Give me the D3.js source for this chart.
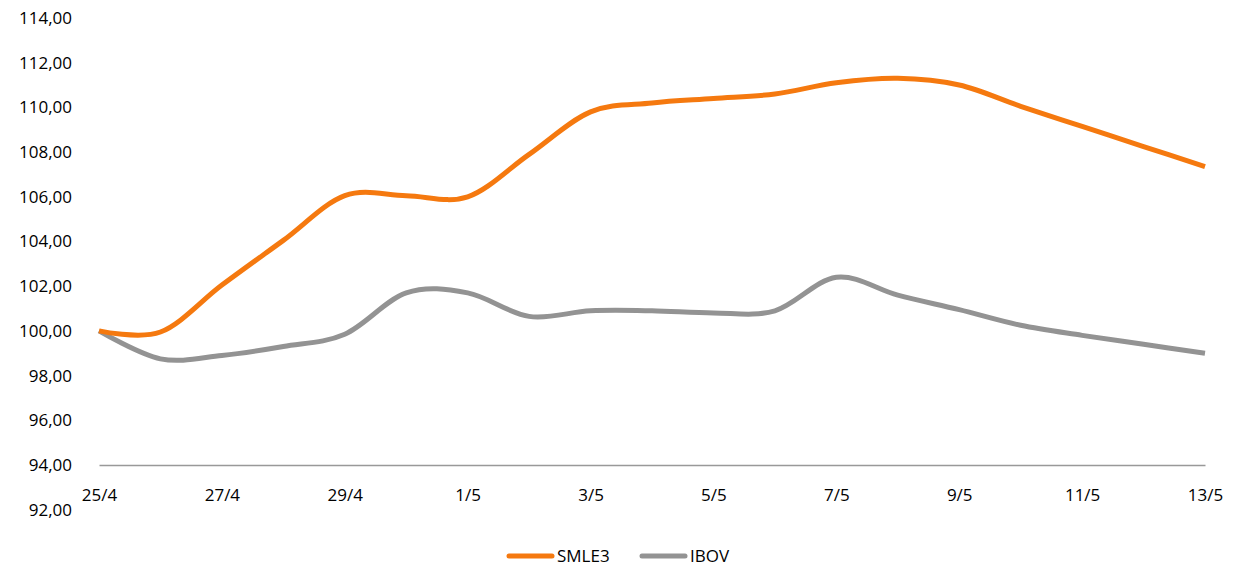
<!DOCTYPE html>
<html>
<head>
<meta charset="utf-8">
<script src="https://cdn.jsdelivr.net/npm/d3@7"></script>
<style>
  body { margin: 0; background: #fff; }
  svg { display: block; font-family: 'Open Sans', sans-serif; }
</style>
</head>
<body>
<div id="chart"></div>
<script>
// Data
const dates = ['25/4', '26/4', '27/4', '28/4', '29/4', '30/4', '1/5', '2/5', '3/5', '4/5',
  '5/5', '6/5', '7/5', '8/5', '9/5', '10/5', '11/5', '12/5', '13/5'];
const smle3 = [100.0, 99.95, 102.05, 104.05, 106.05, 106.05, 106.0, 107.9, 109.8, 110.2,
  110.4, 110.6, 111.1, 111.3, 111.0, 110.05, 109.15, 108.25, 107.35];
const ibov = [100.0, 98.75, 98.9, 99.3, 99.85, 101.7, 101.7, 100.65, 100.9, 100.9,
  100.8, 100.9, 102.4, 101.6, 100.95, 100.25, 99.8, 99.4, 99.0];
const yTicks = [92, 94, 96, 98, 100, 102, 104, 106, 108, 110, 112, 114];
const xTicks = ['25/4', '27/4', '29/4', '1/5', '3/5', '5/5', '7/5', '9/5', '11/5', '13/5'];

const series = [
  { name: 'SMLE3', values: smle3, color: '#f5790f' },
  { name: 'IBOV', values: ibov, color: '#939393' }
];

const width = 1233, height = 570;

const svg = d3.select('#chart')
  .append('svg')
  .attr('width', width)
  .attr('height', height);

const x = d3.scalePoint().domain(dates).range([99, 1205]);
const y = d3.scaleLinear().domain([94, 114]).range([465, 18]);

const locale = d3.formatLocale({ decimal: ',', thousands: '.', grouping: [3], currency: ['R$', ''] });
const fmt = locale.format('.2f');

// Y labels (no axis line)
svg.append('g')
  .attr('transform', 'translate(72,0)')
  .call(d3.axisLeft(y).tickValues(yTicks).tickFormat(fmt).tickSize(0).tickPadding(0))
  .call(g => g.select('.domain').remove())
  .call(g => g.selectAll('text')
    .attr('font-size', 17)
    .attr('font-family', 'Open Sans, sans-serif')
    .attr('fill', '#000'));

// X axis sitting on 94
svg.append('g')
  .attr('transform', `translate(0,${y(94)})`)
  .call(d3.axisBottom(x).tickValues(xTicks).tickSize(0).tickPadding(24))
  .call(g => g.select('.domain').attr('stroke', '#999').attr('stroke-width', 1.5))
  .call(g => g.selectAll('text')
    .attr('font-size', 17)
    .attr('font-family', 'Open Sans, sans-serif')
    .attr('fill', '#000'));

const line = d3.line()
  .x((d, i) => x(dates[i]))
  .y(d => y(d))
  .curve(d3.curveCardinal.tension(0));

// IBOV drawn first, SMLE3 on top
svg.selectAll('path.series')
  .data(series.slice().reverse())
  .join('path')
  .attr('class', 'series')
  .attr('fill', 'none')
  .attr('stroke', d => d.color)
  .attr('stroke-width', 5)
  .attr('stroke-linejoin', 'round')
  .attr('d', d => line(d.values));

// Legend
const legend = svg.append('g').attr('transform', 'translate(507,556)');
const items = legend.selectAll('g')
  .data(series)
  .join('g')
  .attr('transform', (d, i) => `translate(${i * 133},0)`);

items.append('line')
  .attr('x1', 2).attr('x2', 45)
  .attr('stroke', d => d.color)
  .attr('stroke-width', 5)
  .attr('stroke-linecap', 'round');

items.append('text')
  .attr('x', 50)
  .attr('dy', '0.35em')
  .attr('font-size', 17)
  .attr('fill', '#000')
  .text(d => d.name);
</script>
</body>
</html>
